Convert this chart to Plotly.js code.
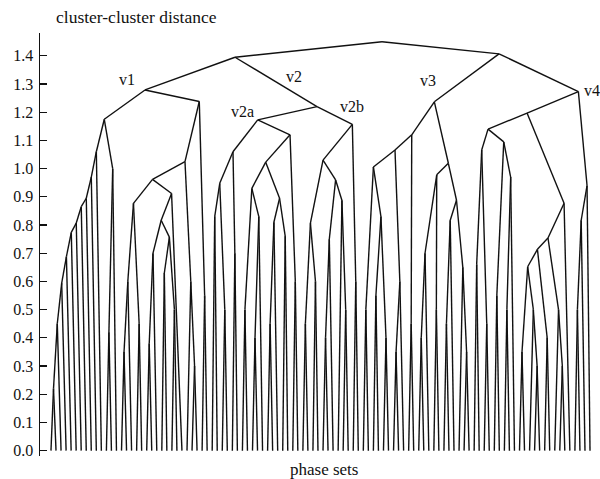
<!DOCTYPE html>
<html><head><meta charset="utf-8">
<script src="https://cdn.plot.ly/plotly-3.0.1.min.js"></script>
<style>html,body{margin:0;padding:0;background:#fff}#chart{width:600px;height:479px}</style>
</head><body><div id="chart"></div>
<script>
// Leaves (phase sets) are numbered 0..leafCount-1 along the x axis.
const leafCount = 108;

// Each merge: [first leaf, last leaf, cluster-cluster distance, optional drawn position]
const topMerges = [
  [0, 107, 1.45, 65.71],
  [0, 61, 1.395, 36.53],
  [62, 107, 1.407, 88.94]
];
const v1Merges = [
  [0, 31, 1.279, 18.66],
  [0, 13, 1.175, 10.58],
  [0, 10, 1.06], [0, 9, 0.97], [0, 8, 0.895], [0, 7, 0.865], [0, 6, 0.807],
  [0, 5, 0.774], [0, 4, 0.688], [0, 3, 0.594], [0, 2, 0.45], [0, 1, 0.22],
  [11, 13, 1.0], [11, 12, 0.42],
  [14, 31, 1.238, 29.44],
  [30, 31, 0.55],
  [14, 29, 1.025, 26.6],
  [14, 26, 0.962],
  [14, 18, 0.877], [14, 16, 0.6], [14, 15, 0.35], [17, 18, 0.45],
  [19, 26, 0.912], [19, 25, 0.817], [19, 21, 0.70], [19, 20, 0.38],
  [22, 25, 0.757], [22, 23, 0.63], [24, 25, 0.5],
  [27, 29, 0.6], [28, 29, 0.3]
];
const v2Merges = [
  [32, 61, 1.220, 52.81],
  [32, 49, 1.173, 41.04],
  [32, 37, 1.06, 36.13], [32, 35, 0.948], [32, 33, 0.83], [34, 35, 0.5], [36, 37, 0.7],
  [38, 49, 1.12, 47.45], [48, 49, 0.6],
  [38, 47, 1.023], [38, 42, 0.93], [38, 39, 0.5], [40, 42, 0.83], [40, 41, 0.4],
  [43, 47, 0.895], [43, 45, 0.81], [43, 44, 0.45], [46, 47, 0.76],
  [50, 61, 1.157, 59.82],
  [60, 61, 0.6],
  [50, 59, 1.03], [50, 53, 0.807], [50, 51, 0.45], [52, 53, 0.6],
  [54, 59, 0.96], [54, 56, 0.75], [54, 55, 0.4], [57, 59, 0.888], [58, 59, 0.5]
];
const v3Merges = [
  [62, 83, 1.237, 76.1],
  [62, 72, 1.12, 71.61], [71, 72, 0.45],
  [62, 70, 1.066, 68.29], [68, 70, 0.6], [68, 69, 0.35],
  [62, 67, 1.006], [62, 63, 0.5], [64, 67, 0.83], [64, 65, 0.55], [66, 67, 0.4],
  [73, 83, 1.019, 78.88], [73, 77, 0.978, 76.57], [73, 75, 0.7], [73, 74, 0.4], [76, 77, 0.5],
  [78, 83, 0.888], [78, 80, 0.817], [78, 79, 0.45], [81, 83, 0.65], [82, 83, 0.35]
];
const v4Merges = [
  [84, 107, 1.273, 104.69],
  [84, 103, 1.197, 94.5],
  [84, 92, 1.14, 86.76],
  [84, 87, 1.066], [84, 85, 0.66], [86, 87, 0.45],
  [88, 92, 1.095], [88, 89, 0.55], [90, 92, 0.97], [90, 91, 0.5],
  [93, 103, 0.877, 101.85],
  [93, 102, 0.754], [93, 99, 0.714], [93, 97, 0.652], [93, 94, 0.35],
  [95, 97, 0.5], [96, 97, 0.3], [98, 99, 0.4],
  [100, 102, 0.5], [101, 102, 0.3],
  [104, 107, 0.94, 106.41],
  [104, 106, 0.817], [104, 105, 0.5]
];

const clusterLabels = ['v1', 'v2', 'v2a', 'v2b', 'v3', 'v4'];
const labelX = [15.09, 48.24, 38.02, 59.76, 74.85, 105.4];
const labelY = [1.315, 1.325, 1.201, 1.219, 1.311, 1.276];
const labelAnchor = ['center', 'center', 'center', 'center', 'center', 'left'];

const yTickVals = [0, 0.1, 0.2, 0.3, 0.4, 0.5, 0.6, 0.7, 0.8, 0.9, 1.0, 1.1, 1.2, 1.3, 1.4];
const yTickText = ['0.0', '0.1', '0.2', '0.3', '0.4', '0.5', '0.6', '0.7', '0.8', '0.9', '1.0', '1.1', '1.2', '1.3', '1.4'];

// ---- build tree from nested leaf intervals ----
const merges = [].concat(topMerges, v1Merges, v2Merges, v3Merges, v4Merges);
const nodes = merges.map(m => ({a: m[0], b: m[1], h: m[2], pos: m.length > 3 ? m[3] : null, children: []}));
nodes.forEach((C, i) => {
  let parent = null;
  nodes.forEach((P, j) => {
    if (i === j) return;
    if (P.a <= C.a && P.b >= C.b && (P.b - P.a) > (C.b - C.a)) {
      if (!parent || (P.b - P.a) < (parent.b - parent.a)) parent = P;
    }
  });
  C.parent = parent;
  if (parent) parent.children.push(C);
});
function layoutNode(n) {
  const kids = [];
  const covered = new Set();
  n.children.forEach(c => {
    layoutNode(c);
    kids.push(c);
    for (let k = c.a; k <= c.b; k++) covered.add(k);
  });
  for (let k = n.a; k <= n.b; k++) if (!covered.has(k)) kids.push({x: k, h: 0});
  n.kids = kids;
  n.x = n.pos != null ? n.pos : kids.reduce((s, k) => s + k.x, 0) / kids.length;
}
nodes.filter(n => !n.parent).forEach(layoutNode);

const xs = [], ys = [];
nodes.forEach(n => {
  n.kids.forEach(k => {
    xs.push(k.x, n.x, null);
    ys.push(k.h, n.h, null);
  });
});

const fam = '"Liberation Serif", "Times New Roman", serif';

const trace = {
  type: 'scatter', mode: 'lines', x: xs, y: ys,
  line: {color: '#111', width: 1.4}, hoverinfo: 'skip', showlegend: false
};

const annotations = clusterLabels.map((t, i) => ({
  text: t, x: labelX[i], y: labelY[i], xref: 'x', yref: 'y',
  showarrow: false, xanchor: labelAnchor[i], yanchor: 'middle',
  font: {family: fam, size: 16, color: '#111'}
}));
annotations.push({
  text: 'cluster-cluster distance', xref: 'paper', yref: 'paper',
  x: 0, y: 1.038, xanchor: 'left', yanchor: 'middle', xshift: 14, showarrow: false,
  font: {family: fam, size: 17.5, color: '#111'}
});
annotations.push({
  text: 'phase sets', xref: 'paper', yref: 'paper',
  x: 0.512, y: -0.031, xanchor: 'center', yanchor: 'middle', showarrow: false,
  font: {family: fam, size: 17, color: '#111'}
});

const layoutCfg = {
  width: 600, height: 479,
  margin: {l: 40, r: 5, t: 33, b: 23, pad: 0},
  paper_bgcolor: '#fff', plot_bgcolor: '#fff',
  showlegend: false,
  xaxis: {range: [-2.18, 107.99], showgrid: false, zeroline: false, showline: false,
          showticklabels: false, ticks: ''},
  yaxis: {range: [-0.019, 1.481], showgrid: false, zeroline: false, showline: true,
          linecolor: '#111', linewidth: 1.5, ticks: 'inside', ticklen: 7, tickwidth: 1.3,
          tickcolor: '#111', tickvals: yTickVals, ticktext: yTickText, ticklabelstandoff: 2,
          tickfont: {family: fam, size: 16, color: '#111'}},
  annotations: annotations
};

Plotly.newPlot('chart', [trace], layoutCfg, {displayModeBar: false, staticPlot: true});
</script>
</body></html>
